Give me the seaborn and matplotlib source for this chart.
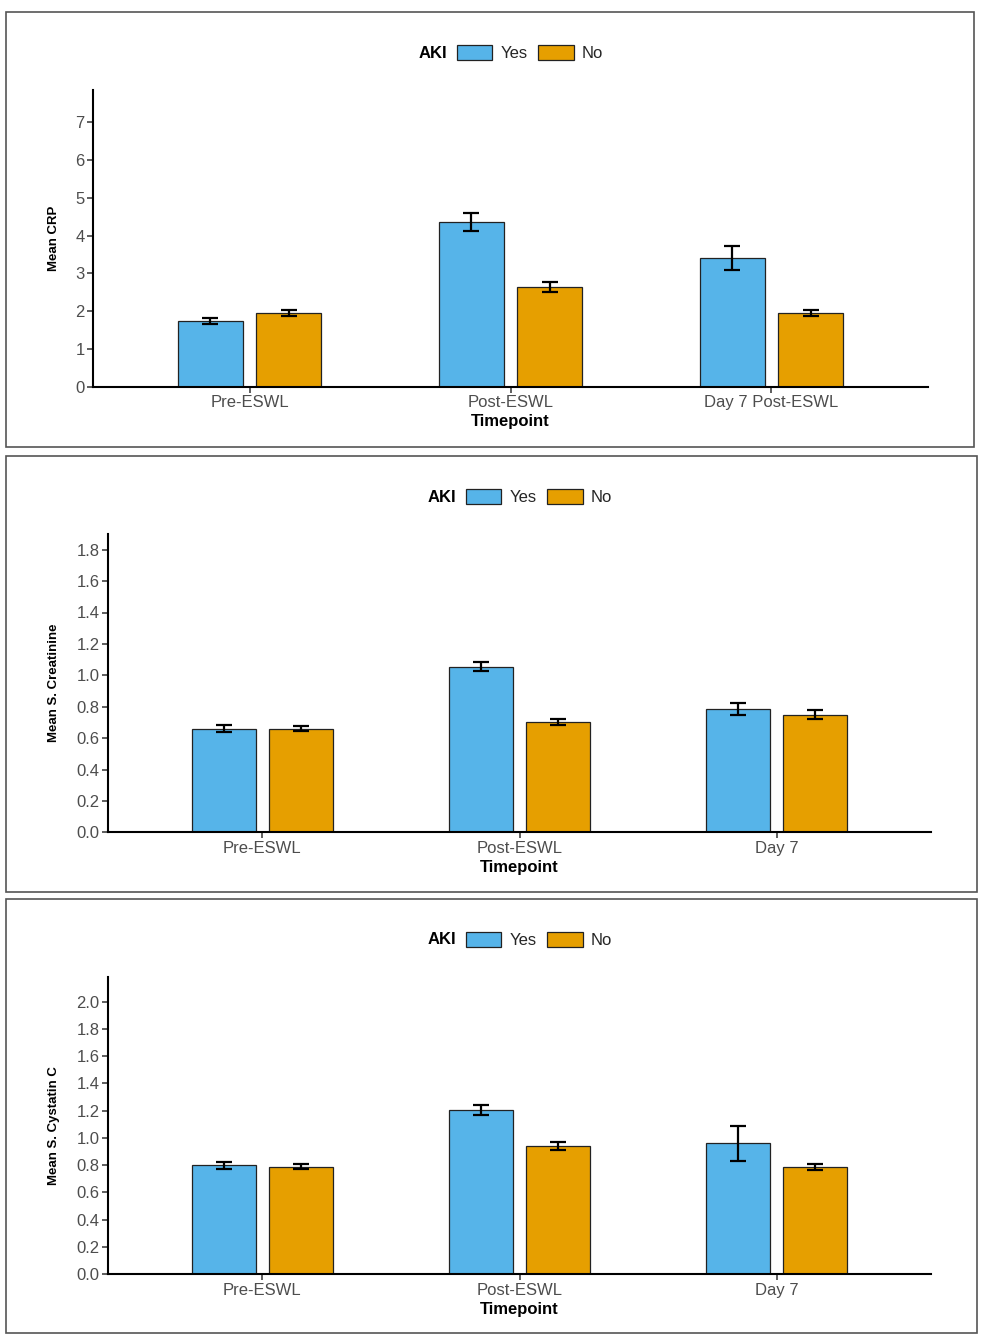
import matplotlib
matplotlib.use("Agg")
import matplotlib.pyplot as plt
import seaborn as sns
import pandas as pd
import numpy as np
from matplotlib.patches import Rectangle

# ---------------- data ----------------
aki_levels = ["Yes", "No"]
timepoints_crp = ["Pre-ESWL", "Post-ESWL", "Day 7 Post-ESWL"]
timepoints_other = ["Pre-ESWL", "Post-ESWL", "Day 7"]

crp_yes = [1.75, 4.36, 3.40]
crp_no = [1.94, 2.63, 1.95]
crp_yes_err = [0.08, 0.24, 0.31]
crp_no_err = [0.08, 0.13, 0.08]

creat_yes = [0.660, 1.056, 0.786]
creat_no = [0.661, 0.700, 0.750]
creat_yes_err = [0.023, 0.029, 0.038]
creat_no_err = [0.016, 0.019, 0.026]

cyst_yes = [0.800, 1.206, 0.960]
cyst_no = [0.790, 0.940, 0.786]
cyst_yes_err = [0.027, 0.039, 0.130]
cyst_no_err = [0.020, 0.032, 0.020]

# ---------------- style ----------------
sns.set_theme(style="white")
plt.rcParams["font.family"] = ["Liberation Sans", "DejaVu Sans"]
palette = {"Yes": "#56B4E9", "No": "#E69F00"}
TICK_COLOR = "#4D4D4D"
FS = 12

W, H = 986, 1334
fig = plt.figure(figsize=(W / 100, H / 100), dpi=100)

panels = [
    dict(tp=timepoints_crp, yes=crp_yes, no=crp_no, ye=crp_yes_err, ne=crp_no_err,
         ylabel="Mean CRP", box=(93, 928, 90, 386.7), ymax=7.85,
         yticks=np.arange(0, 8, 1), fmt="{:.0f}", frame=(6, 12, 974, 447), leg_y=53,
         leg_x=530, aki_x=447),
    dict(tp=timepoints_other, yes=creat_yes, no=creat_no, ye=creat_yes_err, ne=creat_no_err,
         ylabel="Mean S. Creatinine", box=(108, 931, 534, 832.3), ymax=1.90,
         yticks=np.arange(0, 1.81, 0.2), fmt="{:.1f}", frame=(6, 456, 977, 892), leg_y=497,
         leg_x=539, aki_x=456),
    dict(tp=timepoints_other, yes=cyst_yes, no=cyst_no, ye=cyst_yes_err, ne=cyst_no_err,
         ylabel="Mean S. Cystatin C", box=(108, 931, 977, 1274.3), ymax=2.18,
         yticks=np.arange(0, 2.01, 0.2), fmt="{:.1f}", frame=(6, 899, 977, 1333), leg_y=940,
         leg_x=539, aki_x=456),
]

for p in panels:
    # frame
    fx0, fy0, fx1, fy1 = p["frame"]
    fig.patches.append(Rectangle((fx0 / W, 1 - fy1 / H), (fx1 - fx0) / W, (fy1 - fy0) / H,
                                 transform=fig.transFigure, fill=False,
                                 edgecolor="#555555", linewidth=1.2))
    l, r, t, b = p["box"]
    ax = fig.add_axes([l / W, 1 - b / H, (r - l) / W, (b - t) / H])

    df = pd.DataFrame({
        "Timepoint": list(p["tp"]) * 2,
        "AKI": ["Yes"] * 3 + ["No"] * 3,
        "value": list(p["yes"]) + list(p["no"]),
    })
    sns.barplot(data=df, x="Timepoint", y="value", hue="AKI", order=p["tp"],
                hue_order=aki_levels, palette=palette, width=0.6, gap=0.167,
                errorbar=None, edgecolor="#222222", linewidth=0.9, saturation=1,
                ax=ax)
    errs = {"Yes": p["ye"], "No": p["ne"]}
    vals = {"Yes": p["yes"], "No": p["no"]}
    for cont, lev in zip(ax.containers, aki_levels):
        xs = [bar.get_x() + bar.get_width() / 2 for bar in cont]
        ax.errorbar(xs, vals[lev], yerr=errs[lev], fmt="none", ecolor="black",
                    elinewidth=1.6, capsize=5.5, capthick=1.6, zorder=5)

    handles, labels = ax.get_legend_handles_labels()
    if ax.get_legend() is not None:
        ax.get_legend().remove()
    fig.legend(handles, labels, loc="center",
               bbox_to_anchor=(p["leg_x"] / W, 1 - p["leg_y"] / H), ncol=2,
               frameon=False, fontsize=FS, handlelength=2.15, handleheight=1.0,
               handletextpad=0.5, columnspacing=0.6, borderpad=0, borderaxespad=0)
    fig.text(p["aki_x"] / W, 1 - p["leg_y"] / H, "AKI", ha="right", va="center",
             fontsize=FS, fontweight="bold", color="black")

    ax.set_xlim(-0.6, 2.6)
    ax.set_ylim(0, p["ymax"])
    ax.set_yticks(p["yticks"])
    ax.set_yticklabels([p["fmt"].format(v) for v in p["yticks"]])
    sns.despine(ax=ax)
    for s in ["left", "bottom"]:
        ax.spines[s].set_color("black")
        ax.spines[s].set_linewidth(1.5)
    ax.tick_params(axis="both", which="both", length=4, width=1.1, color="#333333",
                   labelsize=FS, labelcolor=TICK_COLOR, pad=2, left=True, bottom=True)
    ax.set_xlabel("Timepoint", fontsize=FS, fontweight="bold", color="black", labelpad=3)
    ax.set_ylabel(p["ylabel"], fontsize=9.5, fontweight="bold", color="black")
    ax.yaxis.set_label_coords((60 - l) / (r - l), 0.5)
    ax.set_facecolor("white")

fig.savefig("out.png", dpi=100, facecolor="white")
